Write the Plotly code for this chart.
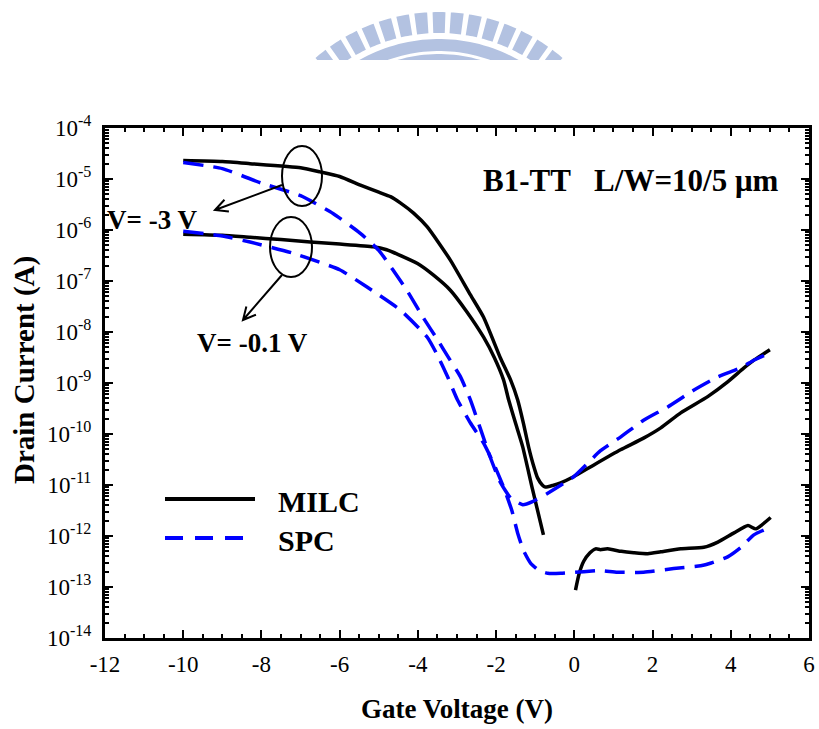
import numpy as np
import plotly.graph_objects as go

# ---------------- data ----------------
vg_milc_3v = [-10, -9, -8.29, -7, -6.5, -6, -5.47, -5, -4.7, -4.45, -4.11, -3.76, -3.17, -2.66,
              -2.32, -1.89, -1.63, -1.45, -1.3, -1.17, -1.05, -0.94, -0.82, -0.74, -0.55, -0.35,
              -0.02, 0.49, 1.18, 1.77, 2.21, 2.72, 3.41, 3.92, 4.33, 4.59, 5.0]
id_milc_3v = [2.3e-5, 2.2e-5, 2.0e-5, 1.66e-5, 1.38e-5, 1.12e-5, 7.6e-6, 5.5e-6, 4.5e-6, 3.4e-6,
              2.14e-6, 1.15e-6, 2.57e-7, 5.4e-8, 1.95e-8, 3.1e-9, 1.15e-9, 4.7e-10, 1.6e-10,
              5.6e-11, 2.5e-11, 1.38e-11, 1.0e-11, 9.1e-12, 9.8e-12, 1.1e-11, 1.45e-11, 2.45e-11,
              4.9e-11, 8.3e-11, 1.32e-10, 2.6e-10, 5.4e-10, 1.05e-9, 1.95e-9, 2.8e-9, 4.5e-9]

vg_milc_01v = [-10, -9, -8.29, -7.5, -6.75, -6, -5.14, -4.8, -4.5, -4.01, -3.6, -3.17, -2.75,
               -2.32, -2.05, -1.81, -1.68, -1.5, -1.32, -1.07, -0.79, None,
               0.03, 0.12, 0.24, 0.4, 0.545, 0.67, 0.85, 1.2, 1.52, 1.88, 2.21, 2.72, 3.31, 3.67,
               4.08, 4.44, 4.64, 5.02]
id_milc_01v = [8.3e-7, 7.9e-7, 7.2e-7, 6.5e-7, 5.8e-7, 5.3e-7, 4.7e-7, 4.1e-7, 3.3e-7, 2.2e-7,
               1.3e-7, 6.6e-8, 2.5e-8, 7.9e-9, 3.2e-9, 1.15e-9, 4.7e-10, 1.6e-10, 5.6e-11,
               8.3e-12, 1.05e-12, None,
               8.7e-14, 1.8e-13, 3.2e-13, 4.7e-13, 5.6e-13, 5.4e-13, 5.6e-13, 5.0e-13, 4.7e-13,
               4.5e-13, 4.9e-13, 5.6e-13, 6.0e-13, 7.6e-13, 1.15e-12, 1.6e-12, 1.38e-12, 2.3e-12]

vg_spc_3v = [-10, -9, -8, -7, -6.17, -5.48, -5, -4.64, -4.25, -3.87, -3.5, -3.2, -2.91, -2.66,
             -2.4, -2.15, -1.89, -1.63, -1.32, -1.07, -0.68, -0.02, 0.67, 1.18, 1.77, 2.39, 3.05,
             3.67, 4.26, 4.59, 5.02]
id_spc_3v = [2.1e-5, 1.6e-5, 8.3e-6, 4.7e-6, 2.1e-6, 8.7e-7, 4.0e-7, 1.66e-7, 6.0e-8, 1.95e-8,
             7.1e-9, 3.0e-9, 1.32e-9, 4.7e-10, 1.26e-10, 3.5e-11, 1.12e-11, 5.6e-12, 4.1e-12,
             4.7e-12, 6.9e-12, 1.45e-11, 4.7e-11, 8.7e-11, 1.86e-10, 3.4e-10, 7.2e-10, 1.32e-9,
             2.0e-9, 2.8e-9, 3.9e-9]

vg_spc_01v = [-10, -9, -8.29, -7.19, -6, -5.3, -4.45, -3.76, -3.5, -3.24, -2.99, -2.66, -2.32,
              -2.05, -1.81, -1.6, -1.45, -1.3, -1.12, -0.9, -0.68, -0.35, 0.24, 0.67, 1.1, 1.77,
              2.54, 3.23, 3.5, 3.92, 4.26, 4.59, 5.02]
id_spc_01v = [9.5e-7, 7.6e-7, 5.8e-7, 3.5e-7, 1.66e-7, 7.6e-8, 2.7e-8, 7.9e-9, 3.5e-9, 1.32e-9,
              4.7e-10, 1.66e-10, 6.6e-11, 2.5e-11, 9.1e-12, 3.2e-12, 1.15e-12, 5.2e-13, 2.95e-13,
              2.1e-13, 1.86e-13, 1.86e-13, 2.0e-13, 2.1e-13, 1.95e-13, 1.95e-13, 2.3e-13, 2.6e-13,
              2.95e-13, 3.9e-13, 6.0e-13, 1.05e-12, 1.5e-12]

x_tickvals = [-12, -10, -8, -6, -4, -2, 0, 2, 4, 6]
x_ticktext = ["-12", "-10", "-8", "-6", "-4", "-2", "0", "2", "4", "6"]
y_exponents = [-14, -13, -12, -11, -10, -9, -8, -7, -6, -5, -4]

# ---------------- geometry helpers ----------------
W, H = 819, 729
ML, MR, MT, MB = 105, 10, 128, 91
PW, PH = W - ML - MR, H - MT - MB


def px(xp):
    return (xp - ML) / PW


def py(yp):
    return (H - MB - yp) / PH


FONT = "Liberation Serif"
BLUE = "#0000ff"

fig = go.Figure()
fig.add_trace(go.Scatter(x=vg_milc_3v, y=id_milc_3v, mode="lines", name="MILC",
                         line=dict(color="black", width=3.5, shape="spline", smoothing=0.5),
                         showlegend=False))
fig.add_trace(go.Scatter(x=vg_milc_01v, y=id_milc_01v, mode="lines", name="MILC",
                         line=dict(color="black", width=3.5, shape="spline", smoothing=0.5),
                         connectgaps=False, showlegend=False))
fig.add_trace(go.Scatter(x=vg_spc_3v, y=id_spc_3v, mode="lines", name="SPC",
                         line=dict(color=BLUE, width=3.5, dash="20px,10px", shape="spline",
                                   smoothing=0.5), showlegend=False))
fig.add_trace(go.Scatter(x=vg_spc_01v, y=id_spc_01v, mode="lines", name="SPC",
                         line=dict(color=BLUE, width=3.5, dash="20px,10px", shape="spline",
                                   smoothing=0.5), showlegend=False))

y_tickvals = [10.0 ** e for e in y_exponents]
y_ticktext = ["10<sup>%d</sup>" % e for e in y_exponents]
y_minor = [k * 10.0 ** e for e in y_exponents[:-1] for k in range(2, 10)]

axis_common = dict(showline=True, linecolor="black", linewidth=3, mirror="ticks",
                   ticks="inside", ticklen=8, tickwidth=2, tickcolor="black",
                   showgrid=False, zeroline=False,
                   tickfont=dict(family=FONT, size=23, color="black"))

fig.update_xaxes(range=[-12, 6], tickmode="array", tickvals=x_tickvals, ticktext=x_ticktext,
                 minor=dict(ticks="inside", ticklen=4, tickwidth=1.5, tickcolor="black",
                            dtick=0.5, tick0=0),
                 ticklabelstandoff=3, **axis_common)
fig.update_yaxes(type="log", range=[-14, -4], tickmode="array", tickvals=y_tickvals,
                 ticktext=y_ticktext,
                 minor=dict(ticks="inside", ticklen=4, tickwidth=1.5, tickcolor="black",
                            tickmode="array", tickvals=y_minor),
                 ticklabelstandoff=6, **axis_common)

shapes = []

# watermark (light-blue striped arc at the top of the page)
WM = "#b3c2e1"
cx, cy = 439, 201


def arc_pts(r, a0, a1, n=24):
    a = np.linspace(a0, a1, n)
    return [(cx + r * np.cos(t), cy - r * np.sin(t)) for t in a]


def poly_path(pts, close=True):
    s = "M %.4f,%.4f " % (px(pts[0][0]), py(pts[0][1]))
    s += " ".join("L %.4f,%.4f" % (px(a), py(b)) for a, b in pts[1:])
    return s + (" Z" if close else "")


step = np.deg2rad(5.55)
half = np.deg2rad(1.95)
for k in range(-8, 9):
    th = np.pi / 2 + k * step
    pts = arc_pts(189, th - half, th + half, 6) + arc_pts(168, th + half, th - half, 6)
    shapes.append(dict(type="path", xref="paper", yref="paper", path=poly_path(pts),
                       fillcolor=WM, line=dict(width=0), layer="below"))
for r_out, r_in in [(162, 150), (147, 136)]:
    a0, a1 = np.deg2rad(40), np.deg2rad(140)
    pts = arc_pts(r_out, a0, a1, 60) + arc_pts(r_in, a1, a0, 60)
    shapes.append(dict(type="path", xref="paper", yref="paper", path=poly_path(pts),
                       fillcolor=WM, line=dict(width=0), layer="below"))
shapes.append(dict(type="rect", xref="paper", yref="paper", x0=px(0), x1=px(W), y0=py(126),
                   y1=py(60), fillcolor="white", line=dict(width=0), layer="below"))

# ellipses marking the curve pairs
shapes.append(dict(type="circle", xref="paper", yref="paper", x0=px(282), x1=px(322),
                   y0=py(206), y1=py(146), line=dict(color="black", width=2)))
shapes.append(dict(type="circle", xref="paper", yref="paper", x0=px(270), x1=px(312),
                   y0=py(277), y1=py(217), line=dict(color="black", width=2)))


# open-V arrows from the ellipses to the labels
def arrow(tail, head, arm=14, ang=27):
    d = np.array(tail, float) - np.array(head, float)
    d /= np.linalg.norm(d)
    out = []
    for s in (1, -1):
        a = np.deg2rad(s * ang)
        r = np.array([d[0] * np.cos(a) - d[1] * np.sin(a), d[0] * np.sin(a) + d[1] * np.cos(a)])
        out.append(tuple(np.array(head) + arm * r))
    path = poly_path([tail, head], close=False) + " " + poly_path([out[0], head, out[1]],
                                                                    close=False)
    return dict(type="path", xref="paper", yref="paper", path=path,
                line=dict(color="black", width=2))


shapes.append(arrow((282, 185), (215, 210)))
shapes.append(arrow((282, 275), (243, 320)))

# hand-made legend samples
shapes.append(dict(type="line", xref="paper", yref="paper", x0=px(165), x1=px(255),
                   y0=py(499), y1=py(499), line=dict(color="black", width=4)))
shapes.append(dict(type="line", xref="paper", yref="paper", x0=px(165), x1=px(255),
                   y0=py(538), y1=py(538), line=dict(color=BLUE, width=4, dash="18px,12px")))

annotations = [
    dict(text="<b>Gate Voltage (V)</b>", xref="paper", yref="paper", x=0.5, y=py(709),
         showarrow=False, font=dict(family=FONT, size=27, color="black"),
         xanchor="center", yanchor="middle"),
    dict(text="<b>Drain Current (A)</b>", xref="paper", yref="paper", x=px(24), y=py(370),
         showarrow=False, textangle=-90, font=dict(family=FONT, size=29, color="black"),
         xanchor="center", yanchor="middle"),
    dict(text="<b>B1-TT\u00a0\u00a0\u00a0L/W=10/5 \u03bcm</b>", xref="paper", yref="paper",
         x=px(481), y=py(180), showarrow=False, xanchor="left", yanchor="middle",
         font=dict(family=FONT, size=31, color="black")),
    dict(text="<b>V= -3 V</b>", xref="paper", yref="paper", x=px(105), y=py(220),
         showarrow=False, xanchor="left", yanchor="middle",
         font=dict(family=FONT, size=27, color="black")),
    dict(text="<b>V= -0.1 V</b>", xref="paper", yref="paper", x=px(195), y=py(343),
         showarrow=False, xanchor="left", yanchor="middle",
         font=dict(family=FONT, size=27, color="black")),
    dict(text="<b>MILC</b>", xref="paper", yref="paper", x=px(276), y=py(501),
         showarrow=False, xanchor="left", yanchor="middle",
         font=dict(family=FONT, size=30, color="black")),
    dict(text="<b>SPC</b>", xref="paper", yref="paper", x=px(276), y=py(540),
         showarrow=False, xanchor="left", yanchor="middle",
         font=dict(family=FONT, size=30, color="black")),
]

fig.update_layout(width=W, height=H, margin=dict(l=ML, r=MR, t=MT, b=MB, autoexpand=False),
                  paper_bgcolor="white", plot_bgcolor="white", showlegend=False,
                  shapes=shapes, annotations=annotations,
                  font=dict(family=FONT, color="black"))

fig.write_html("out.html")
